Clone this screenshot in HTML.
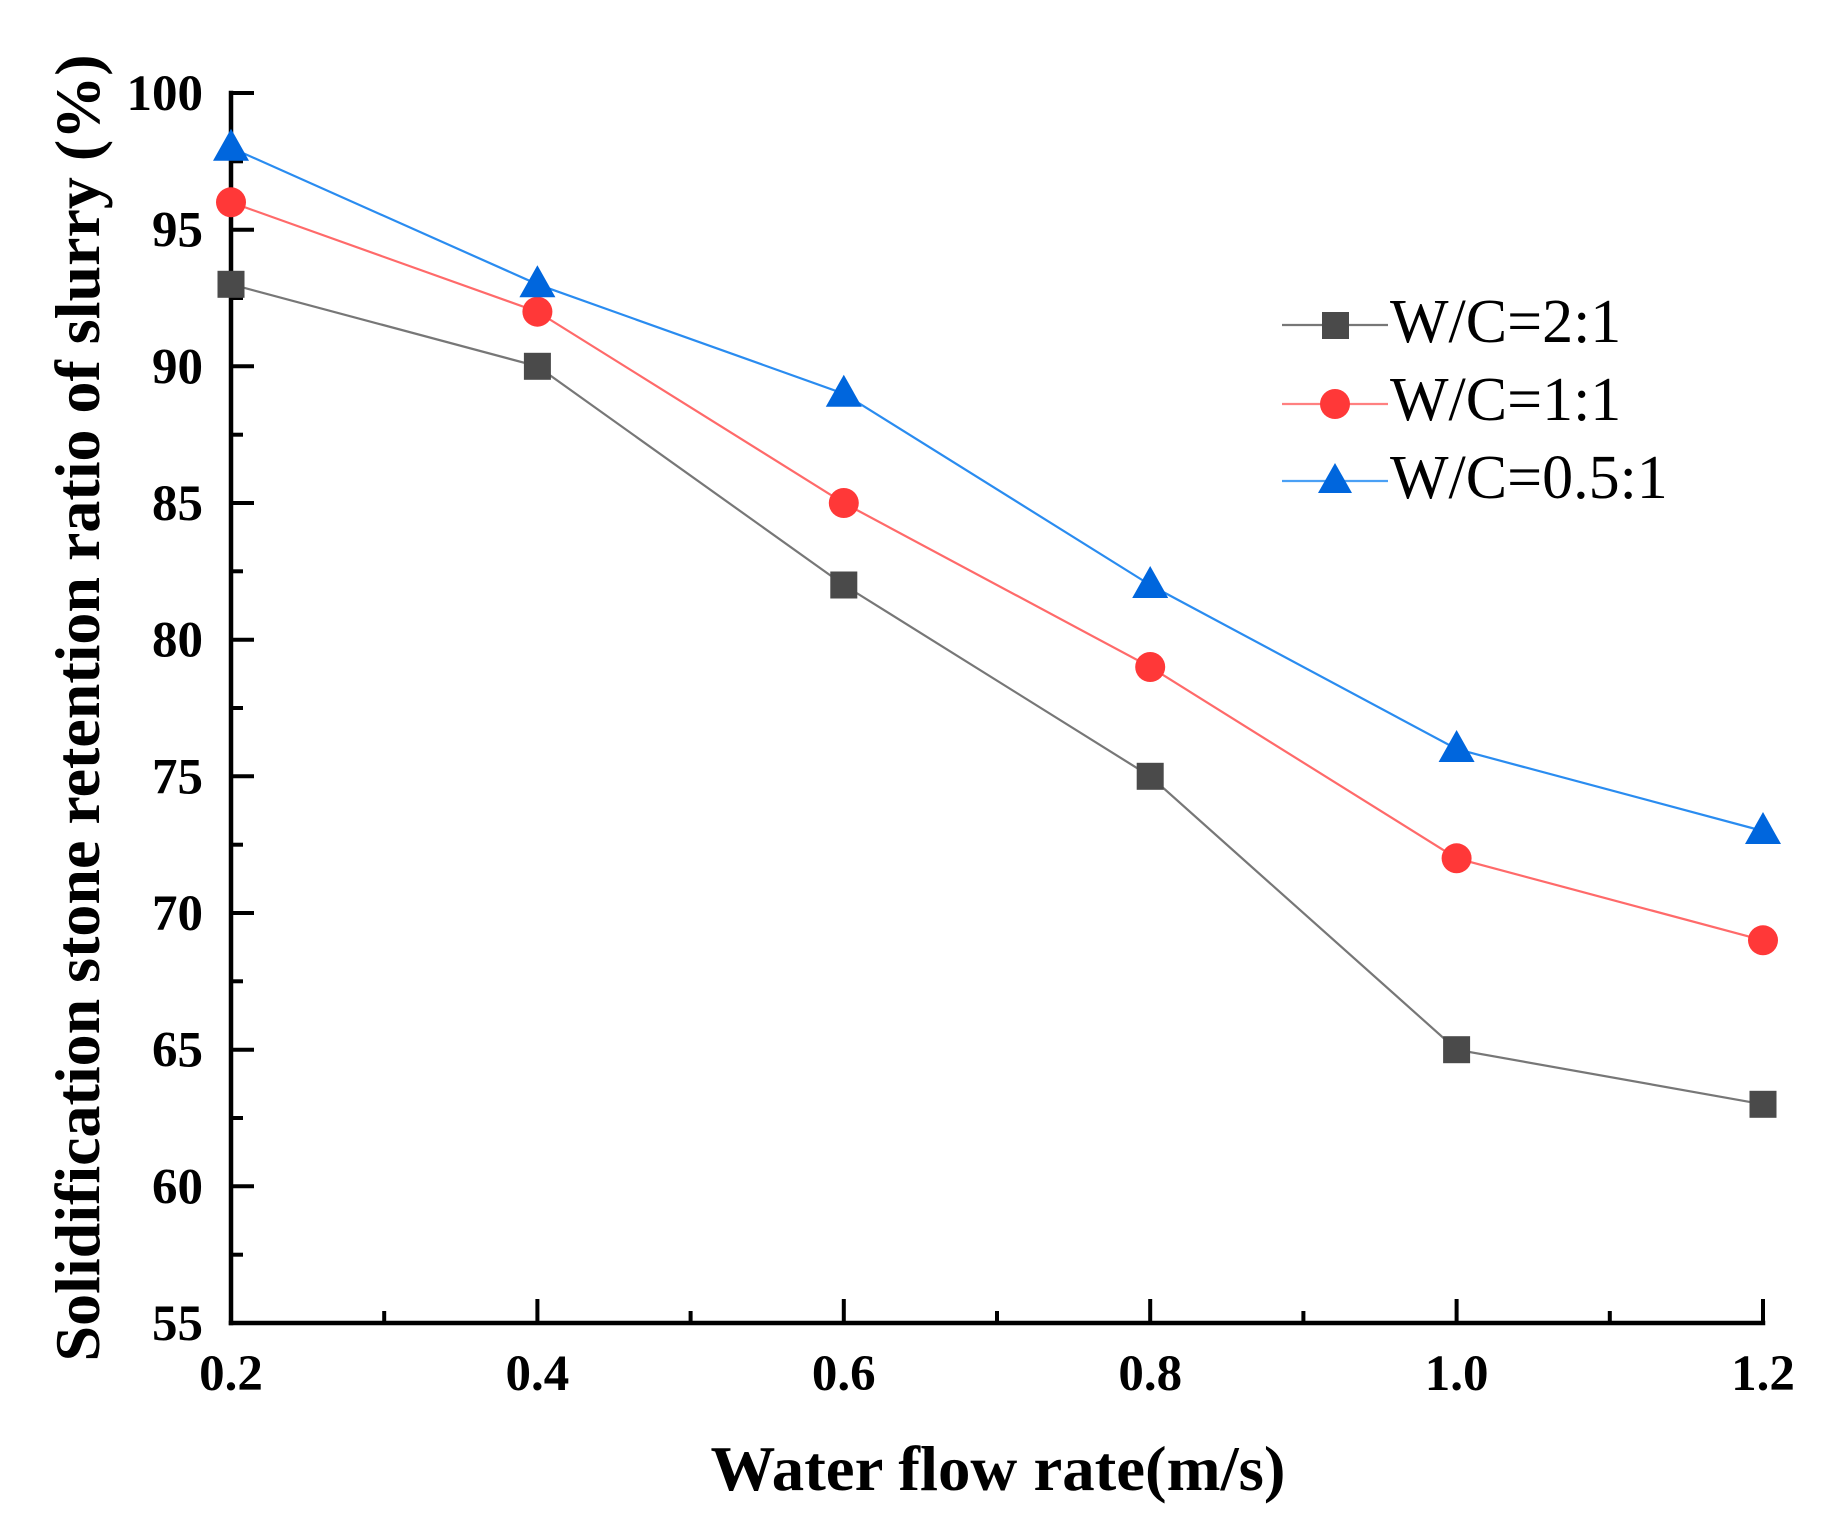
<!DOCTYPE html>
<html>
<head>
<meta charset="utf-8">
<style>
  html, body { margin: 0; padding: 0; background: #ffffff; }
  svg { display: block; }
</style>
</head>
<body>
<svg width="1848" height="1528" viewBox="0 0 1848 1528" xmlns="http://www.w3.org/2000/svg">
  <rect x="0" y="0" width="1848" height="1528" fill="#ffffff"/>

  <!-- Axes -->
  <g stroke="#000" stroke-width="4.5" fill="none" stroke-linecap="square">
    <line x1="231" y1="93" x2="231" y2="1323"/>
    <line x1="231" y1="1323" x2="1763" y2="1323"/>
  </g>

  <!-- Y major ticks -->
  <g stroke="#000" stroke-width="4">
    <line x1="231" y1="93" x2="254" y2="93"/>
    <line x1="231" y1="229.7" x2="254" y2="229.7"/>
    <line x1="231" y1="366.3" x2="254" y2="366.3"/>
    <line x1="231" y1="503" x2="254" y2="503"/>
    <line x1="231" y1="639.7" x2="254" y2="639.7"/>
    <line x1="231" y1="776.3" x2="254" y2="776.3"/>
    <line x1="231" y1="913" x2="254" y2="913"/>
    <line x1="231" y1="1049.7" x2="254" y2="1049.7"/>
    <line x1="231" y1="1186.3" x2="254" y2="1186.3"/>
  </g>
  <!-- Y minor ticks -->
  <g stroke="#000" stroke-width="4">
    <line x1="231" y1="161.3" x2="243" y2="161.3"/>
    <line x1="231" y1="298" x2="243" y2="298"/>
    <line x1="231" y1="434.7" x2="243" y2="434.7"/>
    <line x1="231" y1="571.3" x2="243" y2="571.3"/>
    <line x1="231" y1="708" x2="243" y2="708"/>
    <line x1="231" y1="844.7" x2="243" y2="844.7"/>
    <line x1="231" y1="981.3" x2="243" y2="981.3"/>
    <line x1="231" y1="1118" x2="243" y2="1118"/>
    <line x1="231" y1="1254.7" x2="243" y2="1254.7"/>
  </g>

  <!-- X major ticks -->
  <g stroke="#000" stroke-width="4">
    <line x1="537.4" y1="1323" x2="537.4" y2="1299"/>
    <line x1="843.8" y1="1323" x2="843.8" y2="1299"/>
    <line x1="1150.2" y1="1323" x2="1150.2" y2="1299"/>
    <line x1="1456.6" y1="1323" x2="1456.6" y2="1299"/>
    <line x1="1763" y1="1323" x2="1763" y2="1299"/>
  </g>
  <!-- X minor ticks -->
  <g stroke="#000" stroke-width="4">
    <line x1="384.2" y1="1323" x2="384.2" y2="1311"/>
    <line x1="690.6" y1="1323" x2="690.6" y2="1311"/>
    <line x1="997" y1="1323" x2="997" y2="1311"/>
    <line x1="1303.4" y1="1323" x2="1303.4" y2="1311"/>
    <line x1="1609.8" y1="1323" x2="1609.8" y2="1311"/>
  </g>

  <!-- Y tick labels -->
  <g font-family="'Liberation Serif', 'Times New Roman', serif" font-weight="bold" font-size="51" fill="#000" text-anchor="end">
    <text x="203" y="110">100</text>
    <text x="203" y="246.7">95</text>
    <text x="203" y="383.3">90</text>
    <text x="203" y="520">85</text>
    <text x="203" y="656.7">80</text>
    <text x="203" y="793.3">75</text>
    <text x="203" y="930">70</text>
    <text x="203" y="1066.7">65</text>
    <text x="203" y="1203.3">60</text>
    <text x="203" y="1340">55</text>
  </g>

  <!-- X tick labels -->
  <g font-family="'Liberation Serif', 'Times New Roman', serif" font-weight="bold" font-size="51" fill="#000" text-anchor="middle">
    <text x="231" y="1390">0.2</text>
    <text x="537.4" y="1390">0.4</text>
    <text x="843.8" y="1390">0.6</text>
    <text x="1150.2" y="1390">0.8</text>
    <text x="1456.6" y="1390">1.0</text>
    <text x="1763" y="1390">1.2</text>
  </g>

  <!-- Axis titles -->
  <text x="998" y="1490" font-family="'Liberation Serif', 'Times New Roman', serif" font-weight="bold" font-size="64" fill="#000" text-anchor="middle" textLength="575" lengthAdjust="spacingAndGlyphs">Water flow rate(m/s)</text>
  <text transform="translate(99,708) rotate(-90)" x="0" y="0" font-family="'Liberation Serif', 'Times New Roman', serif" font-weight="bold" font-size="64" fill="#000" text-anchor="middle" textLength="1307" lengthAdjust="spacingAndGlyphs">Solidification stone retention ratio of slurry (%)</text>

  <!-- Series lines -->
  <polyline fill="none" stroke="#777777" stroke-width="2.2" points="231,284.3 537.4,366.3 843.8,585 1150.2,776.3 1456.6,1049.7 1763,1104.3"/>
  <polyline fill="none" stroke="#ff6a6a" stroke-width="2.2" points="231,202.3 537.4,311.7 843.8,503 1150.2,667 1456.6,858.3 1763,940.3"/>
  <polyline fill="none" stroke="#2a8cf0" stroke-width="2.2" points="231,147.7 537.4,284.3 843.8,393.7 1150.2,585 1456.6,749 1763,831"/>

  <!-- Gray square markers -->
  <g fill="#4a4a4a">
    <rect x="217.5" y="270.8" width="27" height="27"/>
    <rect x="523.9" y="352.8" width="27" height="27"/>
    <rect x="830.3" y="571.5" width="27" height="27"/>
    <rect x="1136.7" y="762.8" width="27" height="27"/>
    <rect x="1443.1" y="1036.2" width="27" height="27"/>
    <rect x="1749.5" y="1090.8" width="27" height="27"/>
  </g>

  <!-- Red circle markers -->
  <g fill="#ff3838">
    <circle cx="231" cy="202.3" r="15"/>
    <circle cx="537.4" cy="311.7" r="15"/>
    <circle cx="843.8" cy="503" r="15"/>
    <circle cx="1150.2" cy="667" r="15"/>
    <circle cx="1456.6" cy="858.3" r="15"/>
    <circle cx="1763" cy="940.3" r="15"/>
  </g>

  <!-- Blue triangle markers -->
  <g fill="#0066dd">
    <polygon points="231,128.7 213,160.7 249,160.7"/>
    <polygon points="537.4,265.3 519.4,297.3 555.4,297.3"/>
    <polygon points="843.8,374.7 825.8,406.7 861.8,406.7"/>
    <polygon points="1150.2,566 1132.2,598 1168.2,598"/>
    <polygon points="1456.6,730 1438.6,762 1474.6,762"/>
    <polygon points="1763,812 1745,844 1781,844"/>
  </g>

  <!-- Legend -->
  <line x1="1282" y1="325" x2="1388" y2="325" stroke="#777777" stroke-width="2.2"/>
  <rect x="1322" y="312" width="27" height="27" fill="#4a4a4a"/>
  <line x1="1282" y1="404" x2="1388" y2="404" stroke="#ff8080" stroke-width="2.2"/>
  <circle cx="1335" cy="404" r="15" fill="#ff3838"/>
  <line x1="1282" y1="481" x2="1388" y2="481" stroke="#4aa0f5" stroke-width="2.2"/>
  <polygon points="1335,463 1318,493 1352,493" fill="#0066dd"/>

  <g font-family="'Liberation Serif', 'Times New Roman', serif" font-size="62" fill="#000">
    <text x="1390" y="342">W/C=2:1</text>
    <text x="1390" y="420">W/C=1:1</text>
    <text x="1390" y="498">W/C=0.5:1</text>
  </g>
</svg>
</body>
</html>
